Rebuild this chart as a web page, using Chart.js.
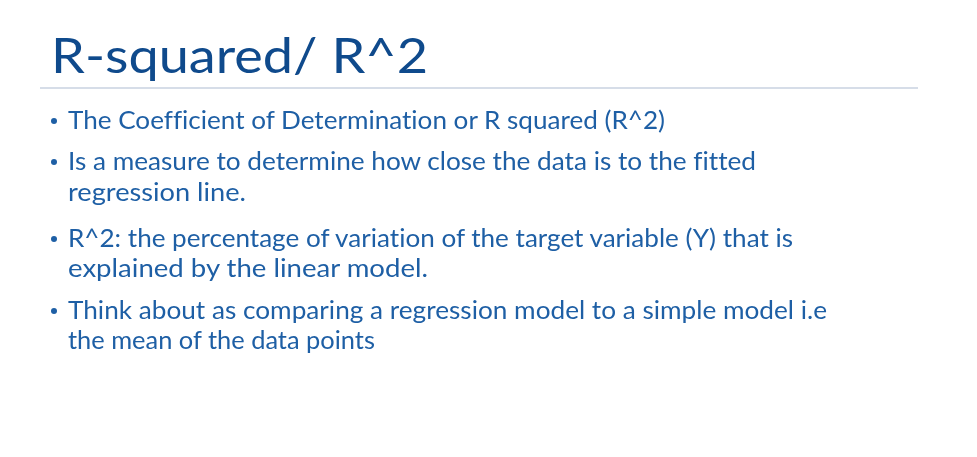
<!DOCTYPE html>
<html>
<head>
<meta charset="utf-8">
<script src="https://cdn.jsdelivr.net/npm/chart.js@4"></script>
<style>
  html, body { margin:0; padding:0; background:#ffffff; }
  body { width:977px; height:457px; position:relative; overflow:hidden; }
  #bg { position:absolute; left:0; top:0; width:977px; height:457px; }
  .title { position:absolute; left:51px; top:0; font-family:"Lato", sans-serif; font-weight:400; font-size:49px; color:#0f4a8c; white-space:nowrap; transform-origin:0 0; line-height:1; }
  .rule { position:absolute; left:40px; top:87px; width:878px; height:2px; background:#d6dde8; }
  .line { position:absolute; left:68px; font-family:"Lato", sans-serif; font-size:24.5px; color:#1e5fa5; white-space:nowrap; transform-origin:0 0; line-height:1; font-variant-ligatures:none; }
  .dot { position:absolute; left:50.5px; width:6px; height:6px; border-radius:50%; background:#1e5fa5; }
</style>
</head>
<body>
<canvas id="bg" width="977" height="457"></canvas>
<script>
const titleText = "R-squared/ R^2";
const bulletLines = [
  ["The Coefficient of Determination or R squared (R^2)"],
  ["Is a measure to determine how close the data is to the fitted", "regression line."],
  ["R^2: the percentage of variation of the target variable (Y) that is", "explained by the linear model."],
  ["Think about as comparing a regression model to a simple model i.e", "the mean of the data points"]
];
// right edges of each text line in the reference (left edge 68)
const lineRightEdges = [665, 756, 246, 793, 428, 827, 375];
const lineBaselines = [130, 171, 202, 248, 278, 320, 350];

new Chart(document.getElementById('bg'), {
  type: 'scatter',
  data: { datasets: [] },
  options: {
    responsive: false, animation: false,
    plugins: { legend: { display: false }, tooltip: { enabled: false } },
    scales: { x: { display: false }, y: { display: false } }
  }
});

function fit(el, targetW) {
  const w = el.getBoundingClientRect().width;
  el.style.transform = 'scaleX(' + (targetW / w) + ')';
}
function place(el, baseline) {
  const fs = parseFloat(getComputedStyle(el).fontSize);
  el.style.top = (baseline - fs * 0.887) + 'px';
}

const t = document.createElement('div');
t.className = 'title'; t.textContent = titleText;
document.body.appendChild(t);
place(t, 73); fit(t, 377);

const r = document.createElement('div'); r.className = 'rule'; document.body.appendChild(r);

let k = 0;
bulletLines.forEach((b) => {
  b.forEach((txt, li) => {
    const d = document.createElement('div');
    d.className = 'line'; d.textContent = txt;
    document.body.appendChild(d);
    place(d, lineBaselines[k]);
    fit(d, lineRightEdges[k] - 68);
    if (li === 0) {
      const dot = document.createElement('div');
      dot.className = 'dot';
      dot.style.top = (lineBaselines[k] - 12.5) + 'px';
      document.body.appendChild(dot);
    }
    k++;
  });
});
</script>
</body>
</html>
